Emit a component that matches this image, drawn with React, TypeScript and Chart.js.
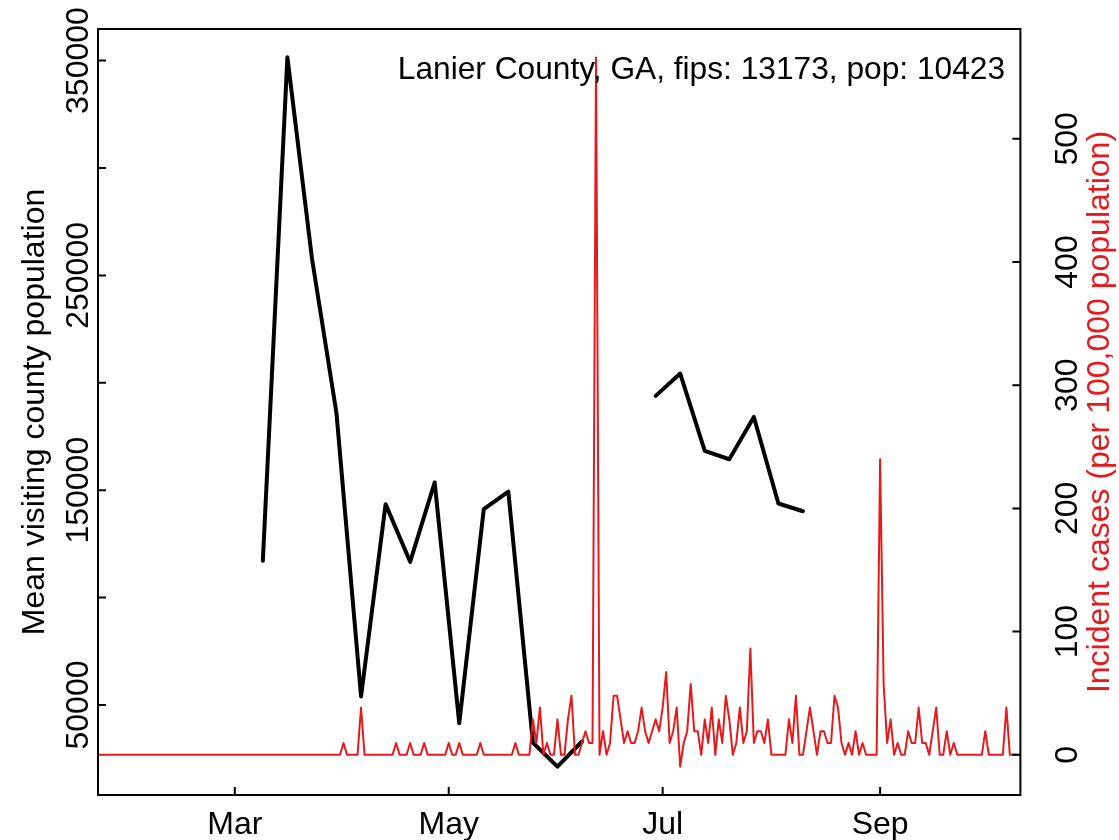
import React, { useEffect, useRef } from "react";
import { Chart, registerables } from "chart.js";

Chart.register(...registerables);

// ---- data (day index: Jan 1, 2020 = 0) ----
const population = 10423;
const titleText = "Lanier County, GA, fips: 13173, pop: 10423";

// daily incident case counts, one value per day from Jan 22 (day 21) to Oct 11 (day 284)
const caseStartDay = 21;
const dailyCases = [
  0, 0, 0, 0, 0, 0, 0, 0, 0, 0,
  0, 0, 0, 0, 0, 0, 0, 0, 0, 0,
  0, 0, 0, 0, 0, 0, 0, 0, 0, 0,
  0, 0, 0, 0, 0, 0, 0, 0, 0, 0,
  0, 0, 0, 0, 0, 0, 0, 0, 0, 0,
  0, 0, 0, 0, 0, 0, 0, 0, 0, 0,
  0, 0, 0, 0, 0, 0, 0, 0, 0, 0,
  1, 0, 0, 0, 0, 4, 0, 0, 0, 0,
  0, 0, 0, 0, 0, 1, 0, 0, 0, 1,
  0, 0, 0, 1, 0, 0, 0, 0, 0, 0,
  1, 0, 0, 1, 0, 0, 0, 0, 0, 1,
  0, 0, 0, 0, 0, 0, 0, 0, 0, 1,
  0, 0, 0, 0, 3, 1, 4, 0, 1, 0,
  0, 3, 0, 0, 3, 5, 0, 0, 1, 2,
  1, 1, 59, 0, 2, 0, 1, 5, 5, 3,
  1, 2, 1, 1, 2, 4, 2, 1, 2, 3,
  2, 4, 7, 1, 2, 4, -1, 1, 2, 6,
  2, 2, 0, 3, 1, 4, 0, 3, 1, 5,
  3, 0, 1, 4, 1, 2, 9, 1, 2, 2,
  1, 3, 0, 0, 0, 0, 0, 3, 1, 5,
  0, 0, 2, 4, 2, 0, 2, 2, 1, 1,
  5, 4, 1, 0, 1, 0, 2, 0, 1, 0,
  0, 0, 0, 25, 6, 1, 3, 0, 1, 0,
  0, 2, 1, 1, 4, 1, 1, 0, 2, 4,
  0, 0, 2, 0, 1, 0, 0, 0, 0, 0,
  0, 0, 0, 2, 0, 0, 0, 0, 0, 4,
  0, 0, 0, 0,
];

// weekly mean visiting county population (null = missing week)
const visitDays = [68, 75, 82, 89, 96, 103, 110, 117, 124, 131, 138, 145, 152, 159, 166, 173, 180, 187, 194, 201, 208, 215, 222];
const visitValues = [
  117100, 351500, 258000, 185800, 54000, 143500, 116650, 153600, 41500, 141200, 149300, 32500,
  21300, 33000, null, null, 193900, 204300, 168300, 164400, 184100, 143800, 140200,
];

const monthTickDays = [60, 121, 182, 244];
const monthTickLabels = ["Mar", "May", "Jul", "Sep"];
const leftTicks = [50000, 100000, 150000, 200000, 250000, 300000, 350000];
const leftLabelled = [50000, 150000, 250000, 350000];
const rightTicks = [0, 100, 200, 300, 400, 500];

const leftTitle = "Mean visiting county population";
const rightTitle = "Incident cases (per 100,000 population)";

const RED = "#E41A1C";
const FONT = '32px "Liberation Sans", Arial, sans-serif';

const axesPlugin = {
  id: "rStyleAxes",
  afterDatasetsDraw(chart: any) {
    const { ctx, chartArea } = chart;
    const { left, right, top, bottom } = chartArea;
    const sx = chart.scales.x;
    const sl = chart.scales.yL;
    const sr = chart.scales.yR;
    ctx.save();
    ctx.strokeStyle = "#000";
    ctx.lineWidth = 2;
    ctx.strokeRect(left, top, right - left, bottom - top);
    const tick = 8;
    ctx.beginPath();
    leftTicks.forEach((v) => {
      const y = sl.getPixelForValue(v);
      ctx.moveTo(left, y);
      ctx.lineTo(left + tick, y);
    });
    rightTicks.forEach((v) => {
      const y = sr.getPixelForValue(v);
      ctx.moveTo(right, y);
      ctx.lineTo(right - tick, y);
    });
    monthTickDays.forEach((d) => {
      const x = sx.getPixelForValue(d);
      ctx.moveTo(x, bottom);
      ctx.lineTo(x, bottom - tick);
    });
    ctx.stroke();

    ctx.font = FONT;
    ctx.fillStyle = "#000";
    ctx.textBaseline = "alphabetic";
    ctx.textAlign = "center";
    monthTickDays.forEach((d, i) => {
      ctx.fillText(monthTickLabels[i], sx.getPixelForValue(d), 834);
    });

    const vtext = (txt: string, x: number, y: number) => {
      ctx.save();
      ctx.translate(x, y);
      ctx.rotate(-Math.PI / 2);
      ctx.textAlign = "center";
      ctx.fillText(txt, 0, 0);
      ctx.restore();
    };
    leftLabelled.forEach((v) => vtext(String(v), 88, sl.getPixelForValue(v)));
    rightTicks.forEach((v) => vtext(String(v), 1077, sr.getPixelForValue(v)));
    const midY = (top + bottom) / 2;
    vtext(leftTitle, 44, midY);
    ctx.fillStyle = RED;
    vtext(rightTitle, 1109, midY);

    ctx.fillStyle = "#000";
    ctx.textAlign = "right";
    ctx.font = '31.7px "Liberation Sans", Arial, sans-serif';
    ctx.fillText(titleText, 1005, 79);
    ctx.restore();
  },
};

export default function App() {
  const canvasRef = useRef<HTMLCanvasElement | null>(null);

  useEffect(() => {
    if (!canvasRef.current) return;
    const incidence = dailyCases.map((c, i) => ({
      x: caseStartDay + i,
      y: (c * 100000) / population,
    }));
    const visits = visitDays.map((d, i) => ({ x: d, y: visitValues[i] }));
    const chart = new Chart(canvasRef.current, {
      type: "line",
      data: {
        datasets: [
          {
            label: "Incident cases",
            data: incidence,
            yAxisID: "yR",
            borderColor: RED,
            borderWidth: 2,
            pointRadius: 0,
            tension: 0,
            borderJoinStyle: "round",
          },
          {
            label: "Mean visiting county population",
            data: visits as any,
            yAxisID: "yL",
            borderColor: "#000",
            borderWidth: 4,
            pointRadius: 0,
            tension: 0,
            spanGaps: false,
            borderJoinStyle: "round",
            borderCapStyle: "round",
          },
        ],
      },
      options: {
        responsive: false,
        animation: false,
        devicePixelRatio: 1,
        layout: { padding: { left: 98, right: 98.6, top: 29, bottom: 45 } },
        scales: {
          x: { type: "linear", min: 21, max: 284, display: false },
          yL: { type: "linear", position: "left", min: 8100, max: 364700, display: false },
          yR: { type: "linear", position: "right", min: -32.6, max: 589.1, display: false },
        },
        plugins: {
          legend: { display: false },
          tooltip: { enabled: false },
          title: { display: false },
        },
      },
      plugins: [axesPlugin],
    });
    return () => chart.destroy();
  }, []);

  return (
    <div style={{ position: "fixed", left: 0, top: 0, width: 1119, height: 840, background: "#fff" }}>
      <canvas ref={canvasRef} width={1119} height={840} style={{ display: "block" }} />
    </div>
  );
}
